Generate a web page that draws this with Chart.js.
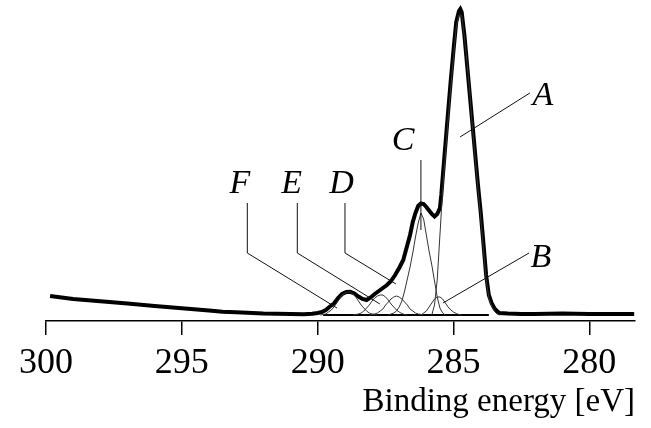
<!DOCTYPE html>
<html>
<head>
<meta charset="utf-8">
<title>C 1s spectrum</title>
<script src="https://cdn.jsdelivr.net/npm/chart.js@4.4.1/dist/chart.umd.min.js"></script>
<style>
    html, body { margin: 0; padding: 0; background: #fff; }
    canvas { display: block; }
</style>
</head>
<body>
<canvas id="xpsChart" width="651" height="428"></canvas>
<script>
// Measured envelope (thick line)
const envelopeEnergy = [299.85, 299.0, 298.0, 297.0, 296.0, 295.0, 294.0, 293.5, 293.0, 292.0, 291.0, 290.5,
    290.2, 290.0, 289.85, 289.7, 289.55, 289.4, 289.25, 289.1, 288.95, 288.8, 288.65, 288.5, 288.35, 288.2,
    288.05, 287.9, 287.75, 287.6, 287.45, 287.3, 287.15, 287.0, 286.85, 286.7, 286.6, 286.5, 286.4, 286.3,
    286.2, 286.1, 286.0, 285.9, 285.8, 285.7, 285.6, 285.5, 285.45, 285.4, 285.3, 285.2, 285.1, 285.0, 284.9,
    284.8, 284.75, 284.7, 284.6, 284.5, 284.4, 284.3, 284.2, 284.1, 284.0, 283.9, 283.8, 283.7, 283.6, 283.5,
    283.4, 283.3, 283.0, 282.5, 282.0, 281.0, 280.0, 279.0, 278.35];
const envelopeIntensity = [19, 16, 13.7, 11.4, 9.1, 6.8, 4.4, 3.3, 2.7, 1.5, 1, 0.7,
    1.2, 2, 3, 5, 8.5, 11.5, 17, 21, 23, 23.2, 21.5, 18.5, 16, 15,
    17.5, 21, 24, 27, 30, 34, 40, 47, 55, 70, 80, 93, 102, 109,
    111.5, 111, 108, 104.5, 101, 98.5, 101, 107, 120, 137, 170, 203, 235, 265, 293,
    304, 306, 303, 280, 250, 220, 190, 160, 130, 103, 72, 40, 20, 12, 7,
    4, 2, 1.5, 1, 1, 1.5, 1, 1, 1];

// Fitted components
const compAEnergy = [285.8, 285.7, 285.6, 285.5, 285.4, 285.3, 285.2, 285.1, 285.0, 284.9, 284.8, 284.7, 284.6,
    284.5, 284.4, 284.3, 284.2, 284.1, 284.0, 283.9, 283.8, 283.7, 283.6, 283.5, 283.4, 283.3];
const compAIntensity = [0, 10, 35, 80, 125, 160, 195, 228, 258, 288, 300, 300, 278,
    252, 222, 186, 156, 126, 98, 66, 36, 17, 9, 4, 1, 0];

const compBEnergy = [286.2, 286.1, 286.0, 285.9, 285.8, 285.7, 285.6, 285.5, 285.4, 285.3, 285.2, 285.1, 285.0,
    284.9, 284.8, 284.7];
const compBIntensity = [0, 2, 4, 8, 12, 16, 18, 18, 16, 12, 8, 5, 3, 1.5, 0.5, 0];

const compCEnergy = [287.4, 287.3, 287.2, 287.1, 287.0, 286.9, 286.8, 286.7, 286.6, 286.5, 286.4, 286.3, 286.2,
    286.1, 286.0, 285.9, 285.8, 285.7, 285.6, 285.5, 285.4, 285.3];
const compCIntensity = [0, 1, 2, 4, 8, 14, 24, 36, 48, 62, 78, 92, 102, 96, 80, 64, 50, 34, 18, 7, 2, 0];

const compDEnergy = [288.1, 288.0, 287.9, 287.8, 287.7, 287.6, 287.5, 287.4, 287.3, 287.2, 287.1, 287.0, 286.9,
    286.8, 286.7, 286.6, 286.5, 286.4, 286.3, 286.2, 286.1];
const compDIntensity = [0, 0.5, 1, 2, 4, 6, 10, 13, 16, 18, 19, 18, 16, 13, 10, 6, 4, 2, 1, 0.5, 0];

const compEEnergy = [288.7, 288.6, 288.5, 288.4, 288.3, 288.2, 288.1, 288.0, 287.9, 287.8, 287.7, 287.6, 287.5,
    287.4, 287.3, 287.2, 287.1, 287.0, 286.9, 286.8, 286.7];
const compEIntensity = [0, 0.5, 1, 2, 4, 7, 10, 14, 17, 19, 20, 20, 18, 15, 11, 8, 5, 3, 1.5, 0.5, 0];

const compFEnergy = [289.9, 289.8, 289.7, 289.6, 289.5, 289.4, 289.3, 289.2, 289.1, 289.0, 288.9, 288.8, 288.7,
    288.6, 288.5, 288.4, 288.3, 288.2, 288.1, 288.0, 287.9, 287.8];
const compFIntensity = [0, 0.5, 1, 3, 5, 8, 12, 16, 20, 22, 23, 23, 21, 18, 14, 10, 7, 4, 2, 1, 0.5, 0];

const baselineEnergy = [289.8, 283.7];
const baselineIntensity = [0, 0];

const tickValues = [300, 295, 290, 285, 280];

// Peak labels and their leader lines (data coordinates)
const labelNames = ['A', 'B', 'C', 'D', 'E', 'F'];
const labelEnergy = [281.71, 281.78, 286.86, 289.12, 290.96, 292.86];
const labelIntensity = [210, 48, 165, 122, 122, 122];
const leaderEnergy = [[282.19, 284.76], [282.22, 285.39], [286.2, 286.2],
    [288.995, 288.995, 287.12], [290.75, 290.75, 287.71], [292.59, 292.59, 289.29]];
const leaderIntensity = [[222, 178], [62, 12], [155, 85], [112, 62, 31], [112, 62, 11], [112, 62, 7]];

const serif = '"Liberation Serif", "Times New Roman", serif';

function toPoints(xs, ys) {
    return xs.map((x, i) => ({ x: x, y: ys[i] }));
}

function componentSet(xs, ys) {
    return {
        data: toPoints(xs, ys),
        borderColor: '#333',
        borderWidth: 1,
        pointRadius: 0,
        fill: false
    };
}

const peakLabels = {
    id: 'peakLabels',
    afterDraw(chart) {
        const ctx = chart.ctx;
        const xs = chart.scales.x;
        const ys = chart.scales.y;
        ctx.save();
        ctx.strokeStyle = '#111';
        ctx.lineWidth = 1;
        leaderEnergy.forEach((line, i) => {
            ctx.beginPath();
            line.forEach((e, j) => {
                const px = xs.getPixelForValue(e);
                const py = ys.getPixelForValue(leaderIntensity[i][j]);
                if (j === 0) ctx.moveTo(px, py); else ctx.lineTo(px, py);
            });
            ctx.stroke();
        });
        ctx.fillStyle = '#000';
        ctx.font = 'italic 34px ' + serif;
        ctx.textAlign = 'center';
        ctx.textBaseline = 'alphabetic';
        labelNames.forEach((name, i) => {
            ctx.fillText(name, xs.getPixelForValue(labelEnergy[i]), ys.getPixelForValue(labelIntensity[i]));
        });
        ctx.restore();
    }
};

document.addEventListener('DOMContentLoaded', function () {
    const ctx = document.getElementById('xpsChart').getContext('2d');
    new Chart(ctx, {
        type: 'line',
        data: {
            datasets: [
                componentSet(compAEnergy, compAIntensity),
                componentSet(compBEnergy, compBIntensity),
                componentSet(compCEnergy, compCIntensity),
                componentSet(compDEnergy, compDIntensity),
                componentSet(compEEnergy, compEIntensity),
                componentSet(compFEnergy, compFIntensity),
                {
                    data: toPoints(baselineEnergy, baselineIntensity),
                    borderColor: '#000',
                    borderWidth: 2,
                    pointRadius: 0
                },
                {
                    data: toPoints(envelopeEnergy, envelopeIntensity),
                    borderColor: '#000',
                    borderWidth: 4,
                    pointRadius: 0,
                    tension: 0,
                    fill: false
                }
            ]
        },
        options: {
            responsive: false,
            animation: false,
            devicePixelRatio: 1,
            layout: { padding: { left: 46, right: 16, top: 0, bottom: 0 } },
            plugins: {
                legend: { display: false },
                tooltip: { enabled: false },
                title: {
                    display: true,
                    position: 'bottom',
                    align: 'end',
                    text: 'Binding energy [eV]',
                    color: '#000',
                    padding: { top: 0, bottom: 5.8 },
                    font: { family: serif, size: 33, weight: 'normal', lineHeight: 1.2 }
                }
            },
            scales: {
                x: {
                    type: 'linear',
                    reverse: true,
                    min: 278.32,
                    max: 300,
                    afterBuildTicks(scale) {
                        scale.ticks = tickValues.map(v => ({ value: v }));
                    },
                    afterFit(scale) {
                        scale.height = 61.6;
                    },
                    ticks: {
                        color: '#000',
                        padding: 7,
                        maxRotation: 0,
                        autoSkip: false,
                        font: { family: serif, size: 36 }
                    },
                    grid: {
                        drawOnChartArea: false,
                        drawTicks: true,
                        tickLength: 14,
                        color: '#000',
                        lineWidth: 1.5
                    },
                    border: { display: true, color: '#000', width: 1.5 }
                },
                y: {
                    display: false,
                    min: -6,
                    max: 315
                }
            }
        },
        plugins: [peakLabels]
    });
});
</script>
</body>
</html>
